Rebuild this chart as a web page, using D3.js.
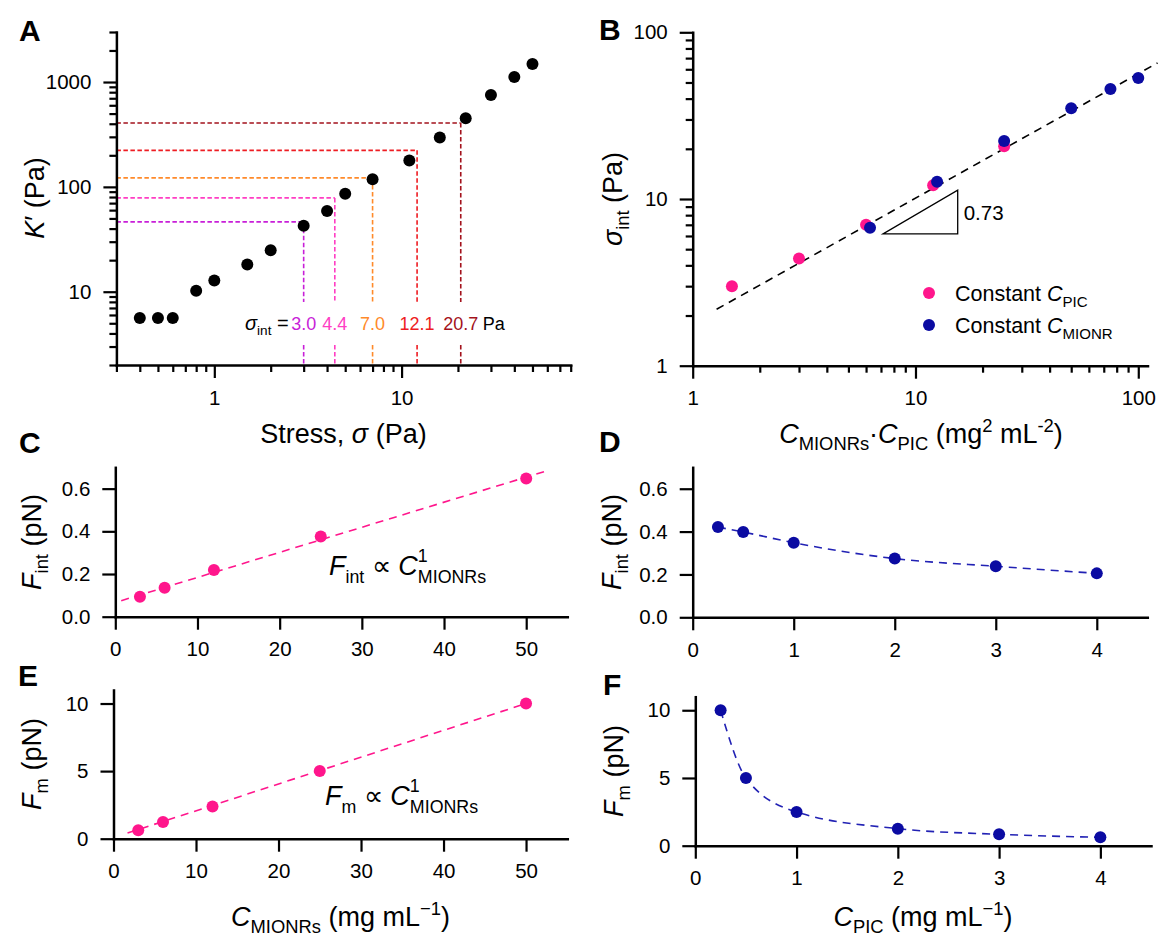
<!DOCTYPE html>
<html><head><meta charset="utf-8">
<script src="https://cdn.jsdelivr.net/npm/d3@7"></script>
<style>
body{margin:0;background:#fff;}
svg{display:block;font-family:"Liberation Sans",Arial,sans-serif;}
</style></head><body>
<svg id="c" width="1158" height="936"></svg>
<script>
// ---------------- DATA ----------------
// Panel A: K' vs stress
const stressA  = [0.4,0.5,0.6,0.8,1,1.5,2,3,4,5,7,11,16,22,30,40,50];
const modulusA = [5.6,5.6,5.6,10.2,12.8,18.2,24.8,42.5,59,86,118,178,295,451,751,1116,1485];
const sigmaInt = [3.0,4.4,7.0,12.1,20.7];
const sigmaIntLabels = ["3.0","4.4","7.0","12.1","20.7"];
const guideK = [46.4,78.5,121.8,223,407];
const guideColors = ["#c81fd8","#ff3ec4","#ff8a2a","#ee1c22","#a3121c"];
const guideGapK = [8.0,3.1];
// Panel B: sigma_int vs product
const productPink = [1.5,3,6,12,25];
const sigmaPink   = [3.0,4.4,7.0,12.1,20.7];
const productBlue = [6.25,12.5,25,50,75,100];
const sigmaBlue   = [6.73,12.7,22.3,35,45.7,53.2];
const fitB = [[1.28,2.18],[122,65.5]];
const slopeTriangle = [[7.15,6.17],[15.47,6.17],[15.47,11.3]];
const slopeLabel = "0.73";
const legendB = ["PIC","MIONR"];
// Panel C / E: vs C_MIONRs
const cMionrs = [3,6,12,25,50];
const fIntC = [0.094,0.136,0.219,0.376,0.647];
const fitC = [[0.72,0.075],[52.3,0.681]];
const fmE = [0.62,1.23,2.39,5.0,10.0];
const fitE = [[1.7,0.42],[50,10.0]];
// Panel D / F: vs C_PIC
const cPic = [0.25,0.5,1,2,3,4];
const fIntD = [0.421,0.398,0.348,0.274,0.238,0.205];
const fmF = [10.0,5.0,2.49,1.26,0.84,0.62];
// Ticks
const ticksAxMajor = [1,10];
const ticksAxMinor = [0.3,0.4,0.5,0.6,0.7,0.8,0.9,2,3,4,5,6,7,8,9,20,30,40,50,60,70,80];
const ticksAyMajor = [10,100,1000];
const ticksAyMinor = [2,3,4,5,6,7,8,9,20,30,40,50,60,70,80,90,200,300,400,500,600,700,800,900,2000,3000];
const ticksBMajor = [1,10,100];
const ticksBMinor = [2,3,4,5,6,7,8,9,20,30,40,50,60,70,80,90];
const ticksCx = [0,10,20,30,40,50];
const ticksCy = [0,0.2,0.4,0.6];
const ticksDx = [0,1,2,3,4];
const ticksEy = [0,5,10];

// ---------------- STYLE ----------------
const PINK = "#ff168c", BLUE = "#0b0ba2", BLUE_LINE = "#2222b4";
const TICKFS = 20.5, TITLEFS = 27;
const svg = d3.select("#c");

function rich(parent, parts, size, attrs, opt) {
  const o = Object.assign({sub: 0.26, sup: -0.42, ratio: 0.68}, opt || {});
  const t = parent.append("text").attr("font-size", size).attr("fill", "#000");
  for (const k in attrs) t.attr(k, attrs[k]);
  let cur = 0, prevW = 0;
  parts.forEach(p => {
    let target = 0, fs = size;
    if (p.sub) { target = o.sub * size; fs = o.ratio * size; }
    if (p.sup) { target = o.sup * size; fs = o.ratio * size; }
    const ts = t.append("tspan").text(p.t).attr("font-size", fs);
    const d = target - cur;
    if (d !== 0) ts.attr("dy", d);
    if (p.it) ts.attr("font-style", "italic");
    if (p.fill) ts.attr("fill", p.fill);
    if (p.back) ts.attr("dx", -prevW);
    prevW = ts.node().getComputedTextLength();
    cur = target;
  });
  return t;
}

function styleAxis(g) {
  g.attr("font-family", null).attr("font-size", null);
  g.select(".domain").attr("stroke", "#000").attr("stroke-width", 2.5).attr("stroke-linecap", "square");
  g.selectAll(".tick line").attr("stroke", "#000").attr("stroke-width", 2.2);
  g.selectAll(".tick text").attr("font-size", TICKFS).attr("fill", "#000");
}

function axes(xs, ys, o) {
  const y0 = ys.range()[0], x0 = xs.range()[0];
  if (o.xMinor) {
    svg.append("g").attr("transform", `translate(0,${y0})`)
      .call(d3.axisBottom(xs).tickValues(o.xMinor).tickFormat("").tickSize(7).tickSizeOuter(0))
      .call(styleAxis).select(".domain").remove();
  }
  if (o.yMinor) {
    svg.append("g").attr("transform", `translate(${x0},0)`)
      .call(d3.axisLeft(ys).tickValues(o.yMinor).tickFormat("").tickSize(7).tickSizeOuter(0))
      .call(styleAxis).select(".domain").remove();
  }
  svg.append("g").attr("transform", `translate(0,${y0})`)
    .call(d3.axisBottom(xs).tickValues(o.xMajor).tickFormat(o.xFmt).tickSize(13).tickPadding(12).tickSizeOuter(0))
    .call(styleAxis);
  svg.append("g").attr("transform", `translate(${x0},0)`)
    .call(d3.axisLeft(ys).tickValues(o.yMajor).tickFormat(o.yFmt).tickSize(13).tickPadding(12).tickSizeOuter(0))
    .call(styleAxis);
}

function dots(xs, ys, xv, yv, color, r) {
  svg.append("g").selectAll("circle").data(xv).join("circle")
    .attr("cx", d => xs(d)).attr("cy", (d, i) => ys(yv[i])).attr("r", r).attr("fill", color);
}

function dashedLine(xs, ys, pts, color, dash, curve) {
  svg.append("path").datum(pts)
    .attr("d", d3.line().x(d => xs(d[0])).y(d => ys(d[1])).curve(curve || d3.curveLinear))
    .attr("fill", "none").attr("stroke", color).attr("stroke-width", 1.6).attr("stroke-dasharray", dash);
}

function panelLetter(txt, x, y) {
  svg.append("text").attr("x", x).attr("y", y).attr("font-size", 30).attr("font-weight", "bold").text(txt);
}

function yTitle(parts, x, y) {
  rich(svg, parts, TITLEFS, {"text-anchor": "middle", transform: `translate(${x},${y}) rotate(-90)`});
}

const str = d => String(d);
const stacked = {sub: 0.3, sup: -0.47, ratio: 0.66};

// ---------------- PANEL A ----------------
{
  const xs = d3.scaleLog().domain([0.3, 80]).range([116.4, 570.7]);
  const ys = d3.scaleLog().domain([2, 3000]).range([365, 32]);
  const ln = d3.line().x(d => xs(d[0])).y(d => ys(d[1]));
  sigmaInt.forEach((s, i) => {
    const c = guideColors[i];
    const segs = [
      [[xs.domain()[0], guideK[i]], [s, guideK[i]]],
      [[s, guideK[i]], [s, guideGapK[0]]],
      [[s, guideGapK[1]], [s, ys.domain()[0]]]
    ];
    segs.forEach(sg => {
      svg.append("path").attr("d", ln(sg))
        .attr("fill", "none").attr("stroke", c).attr("stroke-width", 1.6).attr("stroke-dasharray", "4.5,2.5");
    });
  });
  dots(xs, ys, stressA, modulusA, "#000", 6);
  axes(xs, ys, {xMajor: ticksAxMajor, xMinor: ticksAxMinor, yMajor: ticksAyMajor, yMinor: ticksAyMinor, xFmt: str, yFmt: str});
  const annY = 330;
  rich(svg, [{t: "σ", it: true}, {t: "int", sub: true}, {t: " ="}], 20, {x: xs(sigmaInt[0]) - 15, y: annY, "text-anchor": "end"});
  sigmaInt.forEach((s, i) => {
    svg.append("text").attr("x", xs(s)).attr("y", annY).attr("text-anchor", "middle")
      .attr("font-size", 18).attr("fill", guideColors[i]).text(sigmaIntLabels[i]);
  });
  svg.append("text").attr("x", xs(sigmaInt[4]) + 22).attr("y", annY).attr("font-size", 18).text("Pa");
  yTitle([{t: "K", it: true}, {t: "′ (Pa)"}], 44, 198);
  rich(svg, [{t: "Stress, "}, {t: "σ", it: true}, {t: " (Pa)"}], TITLEFS, {x: 343.5, y: 443, "text-anchor": "middle"});
  panelLetter("A", 19, 41);
}

// ---------------- PANEL B ----------------
{
  const xs = d3.scaleLog().domain([1, 110]).range([692.7, 1147.5]);
  const ys = d3.scaleLog().domain([1, 100]).range([365.7, 32.3]);
  const ln = d3.line().x(d => xs(d[0])).y(d => ys(d[1]));
  dashedLine(xs, ys, fitB, "#000", "8,6");
  svg.append("path").attr("d", ln(slopeTriangle) + "Z")
    .attr("fill", "none").attr("stroke", "#000").attr("stroke-width", 1.3);
  svg.append("text").attr("x", xs(slopeTriangle[1][0]) + 6).attr("y", 220).attr("font-size", 20.5).text(slopeLabel);
  dots(xs, ys, productPink, sigmaPink, PINK, 6);
  dots(xs, ys, productBlue, sigmaBlue, BLUE, 6);
  axes(xs, ys, {xMajor: ticksBMajor, xMinor: ticksBMinor, yMajor: ticksBMajor, yMinor: ticksBMinor, xFmt: str, yFmt: str});
  const lg = [[PINK, legendB[0], 293], [BLUE, legendB[1], 325]];
  lg.forEach(([c, s, yy]) => {
    svg.append("circle").attr("cx", 929).attr("cy", yy).attr("r", 6).attr("fill", c);
    rich(svg, [{t: "Constant "}, {t: "C", it: true}, {t: s, sub: true}], 21.5, {x: 955, y: yy + 8}, {ratio: 0.7});
  });
  yTitle([{t: "σ", it: true}, {t: "int", sub: true}, {t: " (Pa)"}], 622, 199);
  rich(svg, [{t: "C", it: true}, {t: "MIONRs", sub: true}, {t: "·"}, {t: "C", it: true}, {t: "PIC", sub: true},
             {t: " (mg"}, {t: "2", sup: true}, {t: " mL"}, {t: "-2", sup: true}, {t: ")"}],
       TITLEFS, {x: 921, y: 443, "text-anchor": "middle"});
  panelLetter("B", 599, 40);
}

// ---------------- PANEL C ----------------
{
  const xs = d3.scaleLinear().domain([0, 55]).range([115.3, 567.3]);
  const ys = d3.scaleLinear().domain([0, 0.7]).range([616.7, 467.3]);
  dashedLine(xs, ys, fitC, PINK, "8,6");
  dots(xs, ys, cMionrs, fIntC, PINK, 6);
  axes(xs, ys, {xMajor: ticksCx, yMajor: ticksCy, xFmt: str, yFmt: d3.format(".1f")});
  rich(svg, [{t: "F", it: true}, {t: "int", sub: true}, {t: " ∝ "}, {t: "C", it: true}, {t: "1", sup: true}, {t: "MIONRs", sub: true, back: true}],
       27, {x: 329, y: 575}, stacked);
  yTitle([{t: "F", it: true}, {t: "int", sub: true}, {t: " (pN)"}], 41, 542);
  panelLetter("C", 19, 453);
}

// ---------------- PANEL D ----------------
{
  const xs = d3.scaleLinear().domain([0, 4.5]).range([692.7, 1147.3]);
  const ys = d3.scaleLinear().domain([0, 0.7]).range([617.3, 467.3]);
  dashedLine(xs, ys, cPic.map((d, i) => [d, fIntD[i]]), BLUE_LINE, "8,6", d3.curveMonotoneX);
  dots(xs, ys, cPic, fIntD, BLUE, 6);
  axes(xs, ys, {xMajor: ticksDx, yMajor: ticksCy, xFmt: str, yFmt: d3.format(".1f")});
  yTitle([{t: "F", it: true}, {t: "int", sub: true}, {t: " (pN)"}], 621, 542);
  panelLetter("D", 599, 452);
}

// ---------------- PANEL E ----------------
{
  const xs = d3.scaleLinear().domain([0, 55]).range([113.5, 567.3]);
  const ys = d3.scaleLinear().domain([0, 11]).range([838.7, 690]);
  dashedLine(xs, ys, fitE, PINK, "8,6");
  dots(xs, ys, cMionrs, fmE, PINK, 6);
  axes(xs, ys, {xMajor: ticksCx, yMajor: ticksEy, xFmt: str, yFmt: str});
  rich(svg, [{t: "F", it: true}, {t: "m", sub: true}, {t: " ∝ "}, {t: "C", it: true}, {t: "1", sup: true}, {t: "MIONRs", sub: true, back: true}],
       27, {x: 325, y: 805}, stacked);
  yTitle([{t: "F", it: true}, {t: "m", sub: true}, {t: " (pN)"}], 41, 764);
  rich(svg, [{t: "C", it: true}, {t: "MIONRs", sub: true}, {t: " (mg mL"}, {t: "−1", sup: true}, {t: ")"}],
       TITLEFS, {x: 340.5, y: 926, "text-anchor": "middle"});
  panelLetter("E", 18, 686);
}

// ---------------- PANEL F ----------------
{
  const xs = d3.scaleLinear().domain([0, 4.5]).range([695.3, 1151]);
  const ys = d3.scaleLinear().domain([0, 11]).range([845.7, 696.7]);
  dashedLine(xs, ys, cPic.map((d, i) => [d, fmF[i]]), BLUE_LINE, "8,6", d3.curveMonotoneX);
  dots(xs, ys, cPic, fmF, BLUE, 6);
  axes(xs, ys, {xMajor: ticksDx, yMajor: ticksEy, xFmt: str, yFmt: str});
  yTitle([{t: "F", it: true}, {t: "m", sub: true}, {t: " (pN)"}], 623, 771);
  rich(svg, [{t: "C", it: true}, {t: "PIC", sub: true}, {t: " (mg mL"}, {t: "−1", sup: true}, {t: ")"}],
       TITLEFS, {x: 923, y: 926, "text-anchor": "middle"});
  panelLetter("F", 603, 695);
}
</script>
</body></html>
